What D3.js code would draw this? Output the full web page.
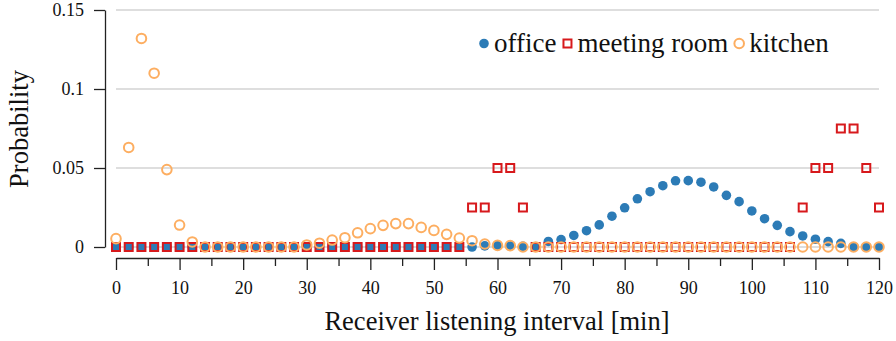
<!DOCTYPE html>
<html>
<head>
<meta charset="utf-8">
<script src="https://cdn.jsdelivr.net/npm/d3@7"></script>
<style>
  body { margin: 0; background: #fff; }
  text { font-family: "Liberation Serif", "DejaVu Serif", serif; fill: #111; }
</style>
</head>
<body>
<script>
// listening interval in minutes (x values of every series)
var minutes = [0, 2, 4, 6, 8, 10, 12, 14, 16, 18, 20, 22, 24, 26, 28, 30, 32, 34, 36, 38,
  40, 42, 44, 46, 48, 50, 52, 54, 56, 58, 60, 62, 64, 66, 68, 70, 72, 74, 76, 78,
  80, 82, 84, 86, 88, 90, 92, 94, 96, 98, 100, 102, 104, 106, 108, 110, 112, 114, 116, 118, 120];

var office = [0, 0, 0, 0, 0, 0, 0, 0, 0, 0, 0, 0, 0, 0, 0, 0, 0, 0, 0, 0,
  0, 0, 0, 0, 0, 0, 0, 0, 0, 0.0007, 0.001, 0.001, 0.0004, 0.0002, 0.0035, 0.0047, 0.0073, 0.0103, 0.014, 0.0195,
  0.0248, 0.0305, 0.035, 0.0388, 0.0419, 0.042, 0.041, 0.038, 0.0327, 0.0287, 0.0228, 0.0179, 0.0137, 0.0097, 0.007, 0.0049, 0.0034, 0.0023, 0.0002, 0.0002, 0];

var meetingRoom = [0, 0, 0, 0, 0, 0, 0, 0, 0, 0, 0, 0, 0, 0, 0, 0, 0, 0, 0, 0,
  0, 0, 0, 0, 0, 0, 0, 0, 0.025, 0.025, 0.05, 0.05, 0.025, 0, 0, 0, 0, 0, 0, 0,
  0, 0, 0, 0, 0, 0, 0, 0, 0, 0, 0, 0, 0, 0, 0.025, 0.05, 0.05, 0.075, 0.075, 0.05, 0.025];

var kitchen = [0.0053, 0.063, 0.132, 0.11, 0.049, 0.0139, 0.0032, 0, 0, 0, 0, 0, 0, 0, 0, 0.0013, 0.0024, 0.0044, 0.0059, 0.009,
  0.0116, 0.0137, 0.0148, 0.0148, 0.0124, 0.0105, 0.008, 0.0057, 0.004, 0.0019, 0.001, 0.0009, 0, 0, 0, 0, 0, 0, 0, 0,
  0, 0, 0, 0, 0, 0, 0, 0, 0, 0, 0, 0, 0, 0, 0, 0, 0, 0, 0, 0, 0];

var seriesNames = ["office", "meeting room", "kitchen"];
var xTicks = [0, 10, 20, 30, 40, 50, 60, 70, 80, 90, 100, 110, 120];
var xMinorTicks = [5, 15, 25, 35, 45, 55, 65, 75, 85, 95, 105, 115];
var yTicks = [0, 0.05, 0.1, 0.15];
var yTickLabels = ["0", "0.05", "0.1", "0.15"];

var width = 896, height = 341;
var blue = "#2c7bb6", red = "#d7191c", orange = "#fdae61";

var svg = d3.select("body").append("svg").attr("width", width).attr("height", height);

var xScale = d3.scaleLinear().domain([0, 120]).range([116, 879]);
var yScale = d3.scaleLinear().domain([0, 0.15]).range([247, 10]);

// grid
svg.append("g")
  .selectAll("line")
  .data(yTicks)
  .enter()
  .append("line")
  .attr("x1", xScale(0))
  .attr("x2", xScale(120))
  .attr("y1", function(d) { return yScale(d); })
  .attr("y2", function(d) { return yScale(d); })
  .attr("stroke", "#bdbdbd")
  .attr("stroke-width", 1);

// y axis
var axisy = d3.axisLeft(yScale)
  .tickValues(yTicks)
  .tickFormat(function(d, i) { return yTickLabels[i]; })
  .tickSize(11)
  .tickSizeOuter(0)
  .tickPadding(10);
var gy = svg.append("g")
  .attr("transform", "translate(105,0)")
  .call(axisy);
gy.selectAll("text").attr("font-size", 18).attr("font-family", null).attr("fill", "#111");

// x axis (major + minor ticks)
var axisx = d3.axisBottom(xScale).tickValues(xTicks).tickSize(12).tickSizeOuter(0);
var gx = svg.append("g")
  .attr("transform", "translate(0,258)")
  .call(axisx);
gx.selectAll("text").attr("font-size", 18).attr("font-family", null).attr("fill", "#111")
  .attr("y", 36).attr("dy", null);

var axisxMinor = d3.axisBottom(xScale).tickValues(xMinorTicks).tickSize(8).tickSizeOuter(0).tickFormat("");
var gxm = svg.append("g")
  .attr("transform", "translate(0,258)")
  .call(axisxMinor);
gxm.select(".domain").remove();

svg.selectAll(".domain, .tick line").attr("stroke", "#222").attr("stroke-width", 1.3);

// axis labels
svg.append("text")
  .attr("x", 497)
  .attr("y", 330)
  .attr("text-anchor", "middle")
  .attr("font-size", 26.5)
  .text("Receiver listening interval [min]");

svg.append("text")
  .attr("transform", "translate(28,129) rotate(-90)")
  .attr("text-anchor", "middle")
  .attr("font-size", 26.5)
  .text("Probability");

// series
var pts = function(values) {
  return values.map(function(v, i) { return [minutes[i], v]; });
};

svg.append("g")
  .selectAll("circle")
  .data(pts(office))
  .enter()
  .append("circle")
  .attr("cx", function(d) { return xScale(d[0]); })
  .attr("cy", function(d) { return yScale(d[1]); })
  .attr("r", 4.8)
  .attr("fill", blue);

var sq = 8;
svg.append("g")
  .selectAll("rect")
  .data(pts(meetingRoom))
  .enter()
  .append("rect")
  .attr("x", function(d) { return xScale(d[0]) - sq / 2; })
  .attr("y", function(d) { return yScale(d[1]) - sq / 2; })
  .attr("width", sq)
  .attr("height", sq)
  .attr("fill", "none")
  .attr("stroke", red)
  .attr("stroke-width", 2);

svg.append("g")
  .selectAll("circle")
  .data(pts(kitchen))
  .enter()
  .append("circle")
  .attr("cx", function(d) { return xScale(d[0]); })
  .attr("cy", function(d) { return yScale(d[1]); })
  .attr("r", 4.8)
  .attr("fill", "none")
  .attr("stroke", orange)
  .attr("stroke-width", 2);

// legend
var legend = svg.append("g").attr("font-size", 27);
var lx = 484, ly = 43.5;
seriesNames.forEach(function(name, i) {
  if (i === 0) {
    legend.append("circle").attr("cx", lx).attr("cy", ly).attr("r", 4.8).attr("fill", blue);
  } else if (i === 1) {
    legend.append("rect").attr("x", lx - sq / 2).attr("y", ly - sq / 2).attr("width", sq).attr("height", sq)
      .attr("fill", "none").attr("stroke", red).attr("stroke-width", 2);
  } else {
    legend.append("circle").attr("cx", lx).attr("cy", ly).attr("r", 4.8)
      .attr("fill", "none").attr("stroke", orange).attr("stroke-width", 2);
  }
  var t = legend.append("text").attr("x", lx + 10).attr("y", 52).text(name);
  lx = lx + 10 + t.node().getComputedTextLength() + 11;
});
</script>
</body>
</html>
